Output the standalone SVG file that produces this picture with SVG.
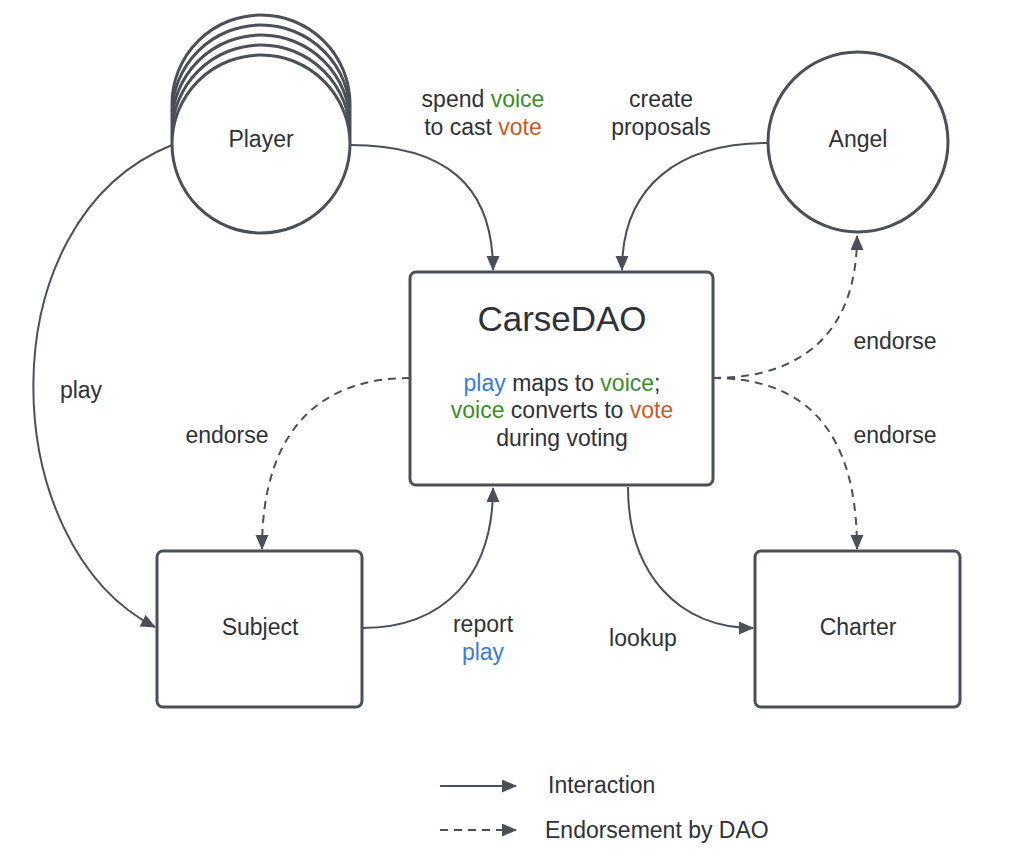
<svg xmlns="http://www.w3.org/2000/svg" width="1024" height="867" viewBox="0 0 1024 867">
<style>
.node{fill:#fff;stroke:#4b5058;stroke-width:3}
.c{fill:none;stroke:#4b5058;stroke-width:2}
.d{stroke-dasharray:8 6}
text{font-family:"Liberation Sans",Arial,sans-serif;fill:#2e3238;font-size:23px;text-anchor:middle}
.b{fill:#3b7bdc}
.g{fill:#3a8c2b}
.o{fill:#c75a28}
</style>
<defs>
<marker id="ah" markerUnits="userSpaceOnUse" markerWidth="18" markerHeight="14" refX="14" refY="6.5" orient="auto">
<path d="M0,0 L15,6.5 L0,13 Z" fill="#4b5058"/>
</marker>
</defs>
<rect width="1024" height="867" fill="#fff"/>
<g id="connectors">
<path class="c" d="M350,145 C445,145 493,185 493,270" marker-end="url(#ah)"/>
<path class="c" d="M768,143 C680,143 622,185 622,270" marker-end="url(#ah)"/>
<path class="c" d="M172,145 C-15,220 -5,545 155,627" marker-end="url(#ah)"/>
<path class="c" d="M362,628 C445,628 493,575 493,488" marker-end="url(#ah)"/>
<path class="c" d="M628,487 C628,575 680,628 753,628" marker-end="url(#ah)"/>
<path class="c d" d="M410,378 C320,378 262,430 262,549" marker-end="url(#ah)"/>
<path class="c d" d="M713,378 C805,378 857,330 857,236" marker-end="url(#ah)"/>
<path class="c d" d="M713,378 C805,378 857,430 857,549" marker-end="url(#ah)"/>
<text x="483" y="107">spend <tspan class="g">voice</tspan></text>
<text x="483" y="135">to cast <tspan class="o">vote</tspan></text>
<text x="661" y="107">create</text>
<text x="661" y="135">proposals</text>
<text x="81" y="398">play</text>
<text x="227" y="443">endorse</text>
<text x="895" y="349">endorse</text>
<text x="895" y="443">endorse</text>
<text x="483" y="632">report</text>
<text x="483" y="660" class="b">play</text>
<text x="643" y="646">lookup</text>
</g>
<g id="player">
<circle class="node" cx="261" cy="104" r="89"/>
<circle class="node" cx="261" cy="114" r="89"/>
<circle class="node" cx="261" cy="124" r="89"/>
<circle class="node" cx="261" cy="134" r="89"/>
<circle class="node" cx="261" cy="144" r="89"/>
<text x="261" y="147">Player</text>
</g>
<g id="angel">
<circle class="node" cx="858" cy="142" r="90"/>
<text x="858" y="147">Angel</text>
</g>
<g id="carsedao">
<rect class="node" x="410" y="272" width="303" height="213" rx="6"/>
<text x="562" y="331" style="font-size:35px">CarseDAO</text>
<text x="562" y="391"><tspan class="b">play</tspan> maps to <tspan class="g">voice</tspan>;</text>
<text x="562" y="418"><tspan class="g">voice</tspan> converts to <tspan class="o">vote</tspan></text>
<text x="562" y="446">during voting</text>
</g>
<g id="subject">
<rect class="node" x="157" y="551" width="205" height="156" rx="6"/>
<text x="260" y="635">Subject</text>
</g>
<g id="charter">
<rect class="node" x="755" y="551" width="205" height="156" rx="6"/>
<text x="858" y="635">Charter</text>
</g>
<g id="legend">
<path class="c" d="M440,786 L516,786" marker-end="url(#ah)"/>
<path class="c d" d="M440,830 L516,830" marker-end="url(#ah)"/>
<text x="548" y="793" style="text-anchor:start">Interaction</text>
<text x="545" y="838" style="text-anchor:start">Endorsement by DAO</text>
</g>
</svg>
